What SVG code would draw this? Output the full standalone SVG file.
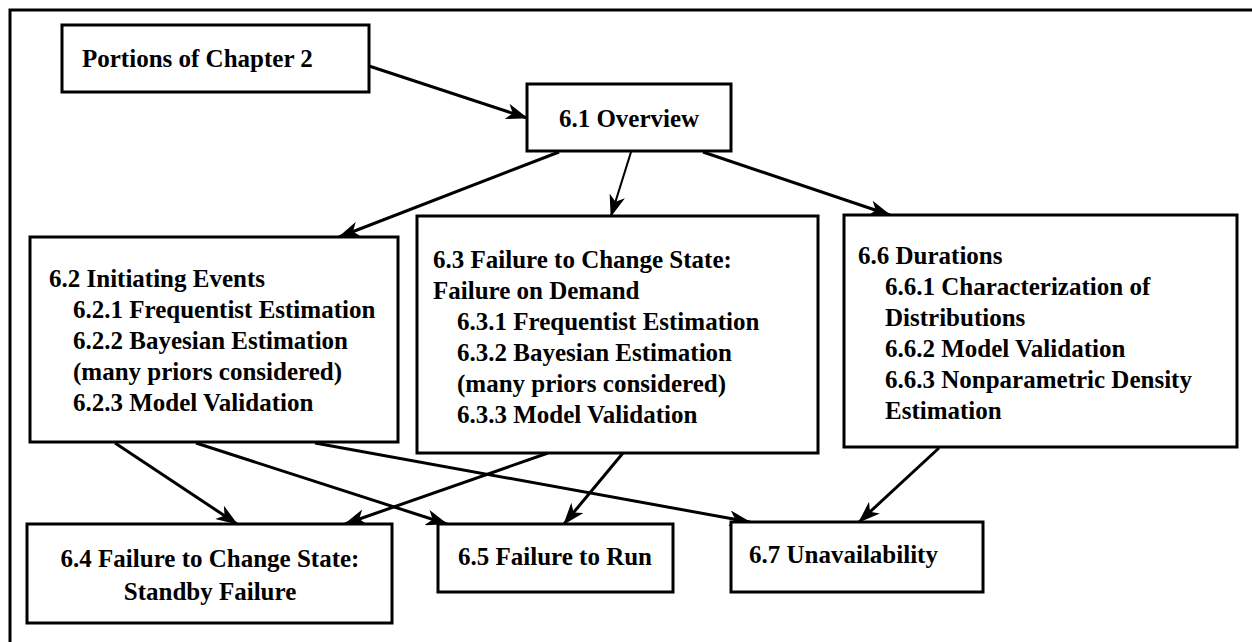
<svg xmlns="http://www.w3.org/2000/svg" width="1252" height="642" viewBox="0 0 1252 642">
  <defs>
    <style>
      .box { fill: #ffffff; stroke: #000000; stroke-width: 3; }
      .t { font-family: "Liberation Serif", "Times New Roman", serif; font-size: 25px; font-weight: bold; fill: #000000; }
      .c { text-anchor: middle; }
      .edge { fill: none; stroke: #000000; stroke-width: 3; marker-end: url(#arrow); }
      .thin { stroke-width: 2; }
      .frame { fill: none; stroke: #000000; stroke-width: 3; }
    </style>
    <marker id="arrow" markerUnits="userSpaceOnUse" viewBox="0 0 22 16" refX="21" refY="8" markerWidth="22" markerHeight="16" orient="auto">
      <path d="M0,0 L22,8 L0,16 L6,8 z" fill="#000000"/>
    </marker>
  </defs>
  <rect x="0" y="0" width="1252" height="642" fill="#ffffff"/>
  <path class="frame" d="M10,642 L10,10 L1252,10"/>

  <g id="connectors">
    <line class="edge" x1="369" y1="66" x2="527" y2="118"/>
    <line class="edge" x1="559" y1="152" x2="339" y2="237"/>
    <line class="edge thin" x1="631" y1="152" x2="611" y2="216"/>
    <line class="edge" x1="703" y1="152" x2="890" y2="215"/>
    <line class="edge" x1="115" y1="443" x2="237" y2="524"/>
    <line class="edge" x1="196" y1="443" x2="447" y2="524"/>
    <line class="edge" x1="315" y1="443" x2="750" y2="522"/>
    <line class="edge" x1="548" y1="453" x2="345" y2="524"/>
    <line class="edge" x1="623" y1="453" x2="564" y2="524"/>
    <line class="edge" x1="939" y1="448" x2="859" y2="522"/>
  </g>

  <g id="n-portions">
    <rect class="box" x="62" y="25" width="307" height="67"/>
    <text class="t" x="82" y="67">Portions of Chapter 2</text>
  </g>
  <g id="n-6-1">
    <rect class="box" x="527" y="84" width="204" height="67"/>
    <text class="t c" x="629" y="127">6.1 Overview</text>
  </g>
  <g id="n-6-2">
    <rect class="box" x="30" y="237" width="368" height="205"/>
    <text class="t" x="49" y="287">6.2 Initiating Events</text>
    <text class="t" x="73" y="318">6.2.1 Frequentist Estimation</text>
    <text class="t" x="73" y="349">6.2.2 Bayesian Estimation</text>
    <text class="t" x="73" y="380">(many priors considered)</text>
    <text class="t" x="73" y="411">6.2.3 Model Validation</text>
  </g>
  <g id="n-6-3">
    <rect class="box" x="417" y="216" width="401" height="237"/>
    <text class="t" x="433" y="268">6.3 Failure to Change State:</text>
    <text class="t" x="433" y="299">Failure on Demand</text>
    <text class="t" x="457" y="330">6.3.1 Frequentist Estimation</text>
    <text class="t" x="457" y="361">6.3.2 Bayesian Estimation</text>
    <text class="t" x="457" y="392">(many priors considered)</text>
    <text class="t" x="457" y="423">6.3.3 Model Validation</text>
  </g>
  <g id="n-6-6">
    <rect class="box" x="844" y="215" width="393" height="232"/>
    <text class="t" x="858" y="264">6.6 Durations</text>
    <text class="t" x="885" y="295">6.6.1 Characterization of</text>
    <text class="t" x="885" y="326">Distributions</text>
    <text class="t" x="885" y="357">6.6.2 Model Validation</text>
    <text class="t" x="885" y="388">6.6.3 Nonparametric Density</text>
    <text class="t" x="885" y="419">Estimation</text>
  </g>
  <g id="n-6-4">
    <rect class="box" x="27" y="524" width="365" height="99"/>
    <text class="t c" x="210" y="567">6.4 Failure to Change State:</text>
    <text class="t c" x="210" y="600">Standby Failure</text>
  </g>
  <g id="n-6-5">
    <rect class="box" x="438" y="524" width="235" height="68"/>
    <text class="t c" x="555" y="565">6.5 Failure to Run</text>
  </g>
  <g id="n-6-7">
    <rect class="box" x="731" y="522" width="252" height="70"/>
    <text class="t" x="749" y="563">6.7 Unavailability</text>
  </g>
</svg>
